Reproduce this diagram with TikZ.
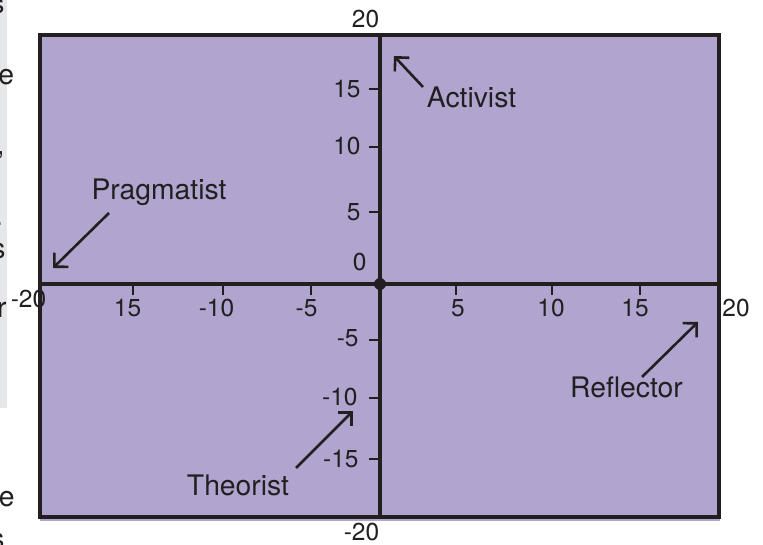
\documentclass[tikz,border=0pt]{standalone}
\usepackage{fontspec}
\setmainfont{TeX Gyre Heros}
\usepackage{xcolor}
\usetikzlibrary{arrows.meta}
\definecolor{qdpurple}{RGB}{177,164,207}
\definecolor{qdline}{RGB}{35,31,32}
\definecolor{qdgray}{RGB}{230,231,232}
\tikzset{
  qd_label/.style={
    font=\fontsize{14.2}{17}\selectfont, text=qdline,
    inner sep=0pt, anchor=base
  },
  qd_num/.style={
    font=\fontsize{12.3}{14}\selectfont, text=qdline,
    inner sep=0pt, anchor=base
  },
  qd_ynum/.style={qd_num, anchor=base east},
  qd_frag/.style={qd_label, anchor=base east},
  qd_axis/.style={draw=qdline, line width=1.6bp},
  qd_tick/.style={draw=qdline, line width=1.3bp},
  qd_arr/.style={-{Straight Barb[length=5bp,width=10bp]}, draw=qdline, line width=1.3bp},
}

\begin{document}
\begin{tikzpicture}[x=0.5bp, y=-0.5bp]
\useasboundingbox (0,0) rectangle (763,545);

% Edge of the neighbouring page
\fill[qdgray] (0,0) rectangle (7,408);
\node[qd_frag] (fa) at (5,14)    {s};
\node[qd_frag] (fb) at (14.5,85) {e};
\node[qd_frag] (fc) at (5,155)   {,};
\node[qd_frag] (fd) at (3.5,226) {.};
\node[qd_frag] (fe) at (6,259)   {s};
\node[qd_frag] (ff) at (7,318)   {r};
\node[qd_frag] (fg) at (15,507)  {e};
\node[qd_frag] (fh) at (5,548)   {s};

% Plot area
\fill[qdpurple] (40,35) rectangle (720,521);
\draw[qd_axis] (40,35) rectangle (719,517);

% Axes
\coordinate (xmin) at (40,284);
\coordinate (xmax) at (719,284);
\coordinate (ymax) at (380,35);
\coordinate (ymin) at (380,517);
\draw[qd_axis] (xmin) -- (xmax);
\draw[qd_axis] (ymax) -- (ymin);
\fill[qdline] (380,284) circle (6);

% Ticks
\foreach \tx in {133,223,311,456,552,640}
  \draw[qd_tick] (\tx,284) -- (\tx,295);
\foreach \ty in {89,147,212,340,398,459}
  \draw[qd_tick] (369,\ty) -- (380,\ty);

% Tick labels
\node[qd_num] (xa) at (28.5,308) {-20};
\foreach \tx/\lab/\nm in {127.5/15/b, 216.5/-10/c, 306.5/-5/d, 458/5/e, 551/10/f, 635/15/g}
  \node[qd_num] (x\nm) at (\tx,317) {\lab};
\node[qd_num] (xh) at (736,317) {20};

\node[qd_num] (ya) at (365.5,28) {20};
\foreach \ty/\lab/\nm in {98/15/b, 155/10/c, 221/5/d}
  \node[qd_ynum] (y\nm) at (361,\ty) {\lab};
\node[qd_ynum] (ye) at (367,271) {0};
\node[qd_ynum] (yf) at (359,347) {-5};
\node[qd_ynum] (yg) at (358,406) {-10};
\node[qd_ynum] (yh) at (359,467) {-15};
\node[qd_num]  (yi) at (361.5,540) {-20};

% Styles
\node[qd_label] (prag) at (159,200)   {Pragmatist};
\node[qd_label] (act)  at (471.5,108) {Activist};
\node[qd_label] (theo) at (238,495)   {Theorist};
\node[qd_label] (refl) at (626.5,398) {Reflector};

\coordinate (prag_from) at (109,213);
\coordinate (prag_to)   at (53,268);
\coordinate (act_from)  at (423,87);
\coordinate (act_to)    at (394,56);
\coordinate (theo_from) at (296,468);
\coordinate (theo_to)   at (353,411);
\coordinate (refl_from) at (642,377);
\coordinate (refl_to)   at (698,322);

\draw[qd_arr] (prag_from) -- (prag_to);
\draw[qd_arr] (act_from)  -- (act_to);
\draw[qd_arr] (theo_from) -- (theo_to);
\draw[qd_arr] (refl_from) -- (refl_to);

\end{tikzpicture}
\end{document}
